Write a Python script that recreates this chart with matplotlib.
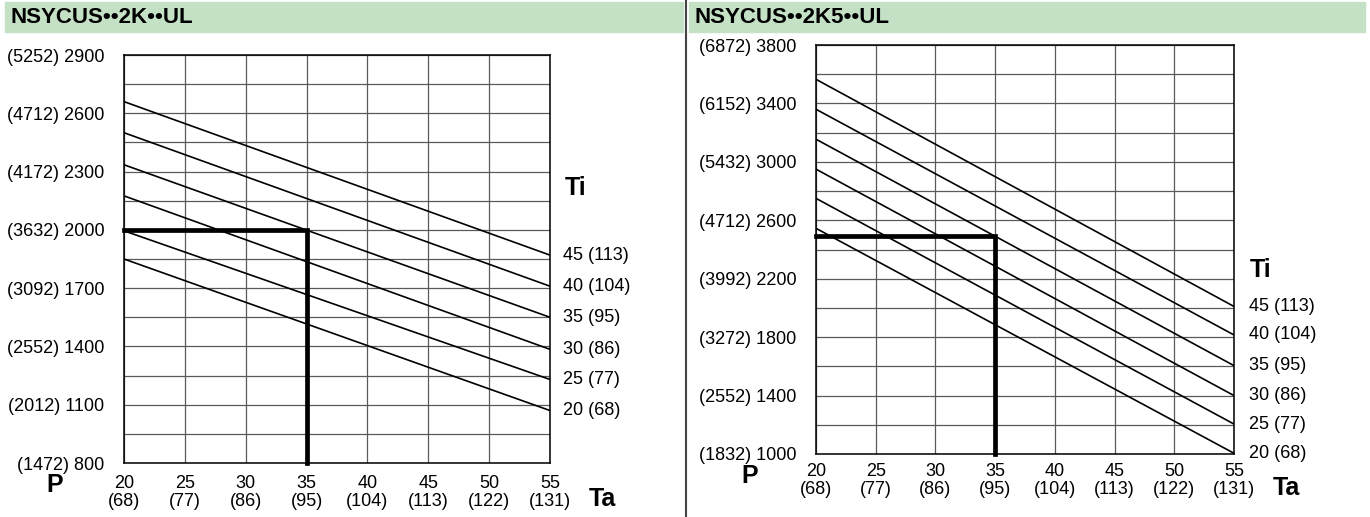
import numpy as np
import matplotlib
matplotlib.use("Agg")
import matplotlib.pyplot as plt
from matplotlib.patches import Rectangle
from matplotlib.lines import Line2D

plt.rcParams["font.family"] = ["Liberation Sans", "DejaVu Sans"]

W, H = 1370, 517

# shared axis data
ta_c = [20, 25, 30, 35, 40, 45, 50, 55]
ta_f = [68, 77, 86, 95, 104, 113, 122, 131]
ti_labels = ["45 (113)", "40 (104)", "35 (95)", "30 (86)", "25 (77)", "20 (68)"]

# NSYCUS..2K..UL
left_title = "NSYCUS••2K••UL"
p_left = [800, 1100, 1400, 1700, 2000, 2300, 2600, 2900]
p_left_btu = [1472, 2012, 2552, 3092, 3632, 4172, 4712, 5252]
left_at20 = [2660, 2500, 2335, 2175, 1995, 1850]
left_at55 = [1870, 1710, 1550, 1385, 1230, 1070]
left_op = (35, 2000)

# NSYCUS..2K5..UL
right_title = "NSYCUS••2K5••UL"
p_right = [1000, 1400, 1800, 2200, 2600, 3000, 3400, 3800]
p_right_btu = [1832, 2552, 3272, 3992, 4712, 5432, 6152, 6872]
right_at20 = [3565, 3360, 3155, 2950, 2750, 2545]
right_at55 = [2010, 1815, 1605, 1400, 1205, 1005]
right_op = (35, 2490)

fig = plt.figure(figsize=(W / 100, H / 100), dpi=100)

# header bands and divider
fig.add_artist(Rectangle((5 / W, 1 - 32 / H), 678 / W, 30 / H,
                         transform=fig.transFigure, color="#c4e1c6", zorder=0))
fig.add_artist(Rectangle((689 / W, 1 - 32 / H), 676 / W, 30 / H,
                         transform=fig.transFigure, color="#c4e1c6", zorder=0))
fig.add_artist(Line2D([686 / W, 686 / W], [0, 1], transform=fig.transFigure,
                      color="#444444", lw=1.5))
fig.text(10 / W, 1 - 17.5 / H, left_title, fontsize=16, weight="bold", va="center")
fig.text(695 / W, 1 - 17.5 / H, right_title, fontsize=16, weight="bold", va="center")


def panel(box, p, p_btu, at20, at55, op, lab):
    x0, y0, x1, y1 = box
    ax = fig.add_axes([x0 / W, 1 - y1 / H, (x1 - x0) / W, (y1 - y0) / H])
    hpx = y1 - y0
    ax.set_xlim(ta_c[0], ta_c[-1])
    ax.set_ylim(p[0], p[-1])
    step = (p[1] - p[0]) / 2
    ax.set_xticks(ta_c)
    ax.set_xticklabels([])
    ax.set_yticks(p)
    ax.set_yticks(np.arange(p[0] + step, p[-1], 2 * step), minor=True)
    ax.set_yticklabels([f"({b}) {v}" for b, v in zip(p_btu, p)], fontsize=13)
    ax.tick_params(axis="both", which="both", length=0)
    ax.tick_params(axis="y", pad=14)
    ax.grid(True, which="both", color="#5a5a5a", lw=0.9)
    ax.set_axisbelow(True)
    for s in ax.spines.values():
        s.set_color("black")
        s.set_linewidth(1.1)

    # x tick labels in two lines
    tr = ax.get_xaxis_transform()
    for c, f in zip(ta_c, ta_f):
        ax.text(c, -lab["tk1"] / hpx, str(c), transform=tr, ha="center",
                va="center", fontsize=13)
        ax.text(c, -lab["tk2"] / hpx, f"({f})", transform=tr, ha="center",
                va="center", fontsize=13)

    # Ti curves
    for a, b, t in zip(at20, at55, ti_labels):
        ax.plot([ta_c[0], ta_c[-1]], [a, b], color="black", lw=1.2,
                solid_capstyle="butt", clip_on=False)
        ax.annotate(t, xy=(ta_c[-1], b), xytext=(lab["ti_dx"], 0),
                    textcoords="offset pixels", va="center", ha="left",
                    fontsize=13, annotation_clip=False)

    # operating point
    ax.plot([ta_c[0], op[0], op[0]], [op[1], op[1], p[0]], color="black",
            lw=3.4, solid_joinstyle="miter", clip_on=False, zorder=3)

    ax.text(lab["P"][0], lab["P"][1], "P", transform=ax.transAxes,
            fontsize=18, weight="bold", ha="center", va="center")
    ax.text(lab["Ta"][0], lab["Ta"][1], "Ta", transform=ax.transAxes,
            fontsize=18, weight="bold", ha="center", va="center")
    ax.text(lab["Ti"][0], lab["Ti"][1], "Ti", transform=ax.transAxes,
            fontsize=18, weight="bold", ha="left", va="center")
    return ax


panel((124, 55, 550, 463), p_left, p_left_btu, left_at20, left_at55, left_op,
      {"tk1": 20, "tk2": 38, "ti_dx": 13,
       "P": (-0.162, -0.055), "Ta": (1.122, -0.088), "Ti": (1.035, 0.674)})
panel((816, 45, 1234, 454), p_right, p_right_btu, right_at20, right_at55, right_op,
      {"tk1": 18, "tk2": 36, "ti_dx": 15,
       "P": (-0.158, -0.053), "Ta": (1.126, -0.083), "Ti": (1.038, 0.45)})

fig.savefig("out.png", dpi=100)
